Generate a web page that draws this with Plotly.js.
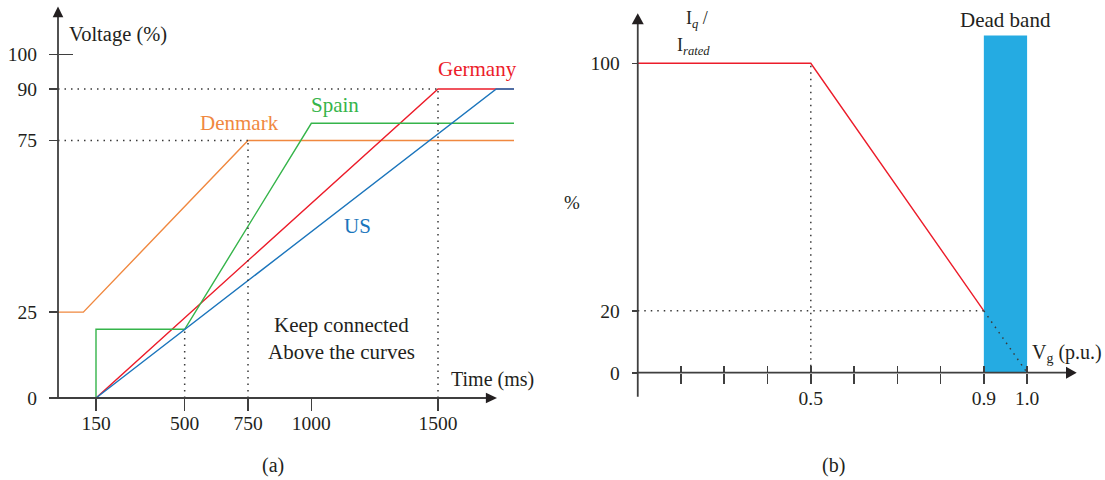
<!DOCTYPE html>
<html>
<head>
<meta charset="utf-8">
<script src="https://cdn.plot.ly/plotly-3.0.1.min.js"></script>
<style>
  html, body { margin: 0; padding: 0; background: #ffffff; }
  #chart { width: 1105px; height: 480px; }
</style>
</head>
<body>
<div id="chart"></div>
<script>
// (a) Fault ride-through voltage profiles: time in ms, voltage in %
const denmarkTime = [0, 100, 750, 1800];
const denmarkVolt = [25, 25, 75, 75];
const spainTime = [150, 150, 500, 1000, 1800];
const spainVolt = [0, 20, 20, 80, 80];
const germanyTime = [0, 150, 1500, 1800];
const germanyVolt = [0, 0, 90, 90];
const usTime = [150, 1730, 1800];
const usVolt = [0, 90, 90];
const timeTicks = [150, 500, 750, 1000, 1500];
const voltTicks = [0, 25, 75, 90, 100];

// (b) Reactive current support against grid voltage
const gridVolt = [0.1, 0.5, 0.9];
const reactiveCurrent = [100, 100, 20];
const vgTicks = [0.2, 0.3, 0.4, 0.5, 0.6, 0.7, 0.8, 0.9, 1.0];
const vgLabelVals = [0.5, 0.9, 1.0];
const vgLabelText = ['0.5', '0.9', '1.0'];
const iqTicks = [0, 20, 100];
const deadBand = [0.9, 1.0];
const deadBandTop = 109;

// colours and fonts
const DK_COLOR = '#f0883f';
const ES_COLOR = '#35b44a';
const DE_COLOR = '#ec1c2a';
const US_COLOR = '#1b75bc';
const BAND_COLOR = '#25abe2';
const INK = '#231f20';
const AXIS = '#3f3f3f';
const FONT = 'Liberation Serif';

const W = 1105, H = 480;
const px = x => x / W;
const py = y => 1 - y / H;

const baseAxis = {
  showgrid: false, zeroline: false, showline: false, fixedrange: true,
  ticks: 'outside', tickcolor: AXIS, tickwidth: 1.6, tickmode: 'array',
  tickfont: { family: FONT, size: 19.5, color: INK }
};

const curve = (x, y, color, xa, ya) => ({
  type: 'scatter', mode: 'lines', x, y, xaxis: xa, yaxis: ya,
  line: { color, width: 1.4 }, hoverinfo: 'skip', showlegend: false
});
const carrier = (xa, ya) => ({ type: 'scatter', x: [], y: [], xaxis: xa, yaxis: ya, showlegend: false, hoverinfo: 'skip' });

const traces = [
  curve(denmarkTime, denmarkVolt, DK_COLOR, 'x', 'y'),
  curve(germanyTime, germanyVolt, DE_COLOR, 'x', 'y'),
  curve(spainTime, spainVolt, ES_COLOR, 'x', 'y'),
  curve(usTime, usVolt, US_COLOR, 'x', 'y'),
  curve(gridVolt, reactiveCurrent, DE_COLOR, 'x2', 'y2'),
  // empty traces that carry the overlay tick axes
  carrier('x', 'y3'),
  carrier('x3', 'y2'),
  carrier('x4', 'y2')
];

const axisLine = { color: AXIS, width: 1.8 };
const dotted = { color: '#3a3a3a', width: 1.5, dash: '1.5px,5px' };
const seg = (xa, ya, x0, y0, x1, y1, line) => ({ type: 'line', xref: xa, yref: ya, x0, y0, x1, y1, line, layer: 'above' });
const tri = (xa, ya, path) => ({ type: 'path', xref: xa, yref: ya, path, fillcolor: INK, line: { width: 0 }, layer: 'above' });

const shapes = [
  // dead band
  { type: 'rect', xref: 'x2', yref: 'y2', x0: deadBand[0], x1: deadBand[1], y0: 0, y1: deadBandTop,
    fillcolor: BAND_COLOR, line: { width: 0 }, layer: 'below' },

  // (a) guide lines
  seg('x', 'y', 0, 90, 1500, 90, dotted),
  seg('x', 'y', 0, 75, 750, 75, dotted),
  seg('x', 'y', 500, 0, 500, 20, dotted),
  seg('x', 'y', 750, 0, 750, 75, dotted),
  seg('x', 'y', 1500, 0, 1500, 90, dotted),
  // (a) axes with arrow heads
  seg('x', 'y', 0, 0, 0, 111.5, axisLine),
  seg('x', 'y', 0, 0, 1692, 0, axisLine),
  tri('x', 'y', 'M -21,110.9 L 0,114 L 21,110.9 Z'),
  tri('x', 'y', 'M 1689,1.55 L 1733,0 L 1689,-1.55 Z'),

  // (b) guide lines
  seg('x2', 'y2', 0.5, 0, 0.5, 100, dotted),
  seg('x2', 'y2', 0.1, 20, 0.9, 20, dotted),
  seg('x2', 'y2', 0.9, 20, 1.0, 0, dotted),
  // (b) axes with arrow heads
  seg('x2', 'y2', 0.1, -7.8, 0.1, 113, axisLine),
  seg('x2', 'y2', 0.1, 0, 1.092, 0, axisLine),
  tri('x2', 'y2', 'M 0.0861,112.6 L 0.1,116.2 L 0.1139,112.6 Z'),
  tri('x2', 'y2', 'M 1.09,1.95 L 1.1147,0 L 1.09,-1.95 Z')
];

const ann = (text, x, y, opts = {}) => Object.assign({
  text, xref: 'paper', yref: 'paper', x: px(x), y: py(y),
  xanchor: 'center', yanchor: 'middle', showarrow: false,
  font: { family: FONT, size: 21, color: INK }
}, opts);
const f = (size, color = INK) => ({ font: { family: FONT, size, color } });

const annotations = [
  ann('Voltage (%)', 67, 35, Object.assign({ xanchor: 'left' }, f(20.5))),
  ann('Denmark', 239, 123, f(21, DK_COLOR)),
  ann('Spain', 335, 105, f(21, ES_COLOR)),
  ann('Germany', 477, 69, f(21, DE_COLOR)),
  ann('US', 357, 226, f(21, US_COLOR)),
  ann('Keep connected', 341, 325),
  ann('Above the curves', 341, 352),
  ann('Time (ms)', 449, 379, Object.assign({ xanchor: 'left' }, f(20))),
  ann('(a)', 273, 465, f(20)),

  ann('I<sub><i>q</i></sub> /', 697, 20, f(18)),
  ann('I<sub><i>rated</i></sub>', 693, 47, f(18)),
  ann('%', 572, 203, f(19)),
  ann('Dead band', 1005, 20, f(21)),
  ann('V<sub>g</sub> (p.u.)', 1030, 353, Object.assign({ xanchor: 'left' }, f(20))),
  ann('(b)', 833, 465, f(20))
];

const xRangeB = [0.012714, 1.168516];
const layout = {
  width: W, height: H,
  margin: { l: 0, r: 0, t: 0, b: 0 },
  paper_bgcolor: '#ffffff', plot_bgcolor: 'rgba(0,0,0,0)',
  showlegend: false,
  xaxis: Object.assign({}, baseAxis, {
    domain: [px(40), px(530)], range: [-71.05, 1863.16],
    anchor: 'free', position: py(398),
    tickvals: timeTicks, ticklen: 12, ticklabelstandoff: -4
  }),
  yaxis: Object.assign({}, baseAxis, {
    domain: [py(415), py(5)], range: [-4.95, 114.44],
    anchor: 'free', position: px(58),
    tickvals: voltTicks, ticklen: 9, ticklabelstandoff: 8
  }),
  yaxis3: Object.assign({}, baseAxis, {
    overlaying: 'y', range: [-4.95, 114.44],
    anchor: 'free', position: px(58),
    ticks: 'inside', tickvals: [100], ticklen: 14, showticklabels: false
  }),
  // labelled ticks of the V_g axis
  xaxis2: Object.assign({}, baseAxis, {
    domain: [px(600), px(1100)], range: xRangeB,
    anchor: 'free', position: py(372.7),
    tickvals: vgLabelVals, ticktext: vgLabelText, ticklen: 10, ticklabelstandoff: -2
  }),
  // upper halves of the V_g tick marks
  xaxis3: Object.assign({}, baseAxis, {
    overlaying: 'x2', range: xRangeB,
    anchor: 'free', position: py(372.7),
    ticks: 'inside', tickvals: vgTicks, ticklen: 7, showticklabels: false
  }),
  // lower halves of the V_g tick marks
  xaxis4: Object.assign({}, baseAxis, {
    overlaying: 'x2', range: xRangeB,
    anchor: 'free', position: py(372.7),
    ticks: 'outside', tickvals: vgTicks, ticklen: 10, showticklabels: false
  }),
  yaxis2: Object.assign({}, baseAxis, {
    domain: [py(410), py(5)], range: [-12.056, 118.843],
    anchor: 'free', position: px(637.7),
    tickvals: iqTicks, ticklen: 6, ticklabelstandoff: 8
  }),
  shapes,
  annotations
};

Plotly.newPlot('chart', traces, layout, { displayModeBar: false, staticPlot: true });
</script>
</body>
</html>
